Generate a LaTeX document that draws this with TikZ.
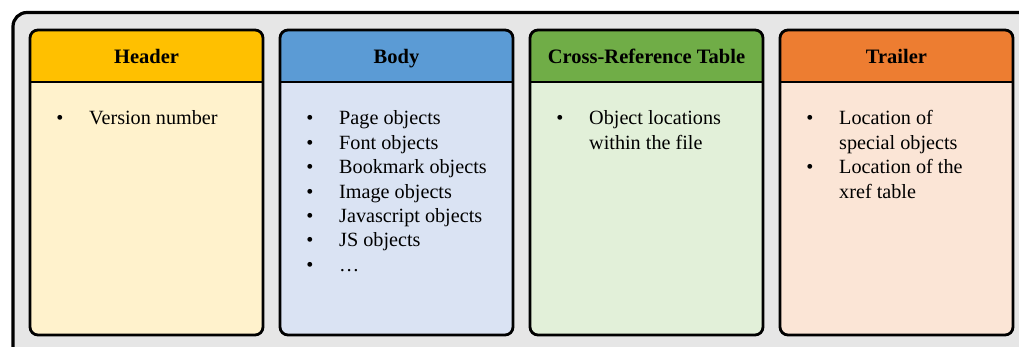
\documentclass[tikz,border=0pt]{standalone}
\usepackage{fontspec}
\setmainfont{Liberation Serif}
\usepackage{tikz}

\definecolor{outergray}{HTML}{E6E6E6}
\definecolor{hdrband}{HTML}{FFC000}
\definecolor{hdrback}{HTML}{FFF2CC}
\definecolor{bdyband}{HTML}{5B9BD5}
\definecolor{bdyback}{HTML}{DAE3F3}
\definecolor{xrtband}{HTML}{70AD47}
\definecolor{xrtback}{HTML}{E2F0D9}
\definecolor{trlband}{HTML}{ED7D31}
\definecolor{trlback}{HTML}{FBE5D6}

\tikzset{
  cardtitle/.style={font=\fontsize{20.5}{24}\selectfont\bfseries, anchor=base, inner sep=0pt},
  item/.style={font=\fontsize{20.2}{24.4}\selectfont, anchor=base west, inner sep=0pt},
  dot/.style={font=\fontsize{20.2}{24.4}\selectfont, anchor=base, inner sep=0pt},
}

\begin{document}
\begin{tikzpicture}[x=1pt,y=-1pt]
    \useasboundingbox (0,0) rectangle (1019,347);
    \clip (0,0) rectangle (1019,347);
    \draw[line width=3.2pt, fill=outergray, rounded corners=14pt] (13,12.5) rectangle (1050,380);
    % the four cards
    \foreach \x/\band/\back/\title/\name in {30/hdrband/hdrback/Header/hdr,
        280/bdyband/bdyback/Body/bdy,
        530/xrtband/xrtback/Cross-Reference Table/xrt,
        780/trlband/trlback/Trailer/trl}{
      \begin{scope}
        \clip[rounded corners=8pt] (\x,30) rectangle ++(233,305);
        \fill[\back] (\x,30) rectangle ++(233,305);
        \fill[\band] (\x,30) rectangle ++(233,52);
      \end{scope}
      \draw[line width=2.8pt] (\x,82) -- ++(233,0);
      \draw[line width=2.8pt, rounded corners=8pt] (\x,30) rectangle ++(233,305);
      \node[cardtitle] (\name) at (\x+116.5,63.3) {\title};
    }
    % header
    \node[dot] (hdr-b1) at (60,125) {•};
    \node[item] (hdr-i1) at (89,125) {Version number};
    % body
    \foreach \t [count=\k] in {Page objects,Font objects,Bookmark objects,Image objects,Javascript objects,JS objects,…}{
      \node[dot] (bdy-b\k) at (310,{125+24.4*(\k-1)}) {•};
      \node[item] (bdy-i\k) at (339,{125+24.4*(\k-1)}) {\t};
    }
    % cross-reference table
    \node[dot] (xrt-b1) at (560,125) {•};
    \node[item] (xrt-i1) at (589,125) {Object locations};
    \node[item] (xrt-i2) at (589,149.4) {within the file};
    % trailer
    \node[dot] (trl-b1) at (810,125) {•};
    \node[item] (trl-i1) at (839,125) {Location of};
    \node[item] (trl-i2) at (839,149.4) {special objects};
    \node[dot] (trl-b2) at (810,173.8) {•};
    \node[item] (trl-i3) at (839,173.8) {Location of the};
    \node[item] (trl-i4) at (839,198.2) {xref table};
\end{tikzpicture}
\end{document}
